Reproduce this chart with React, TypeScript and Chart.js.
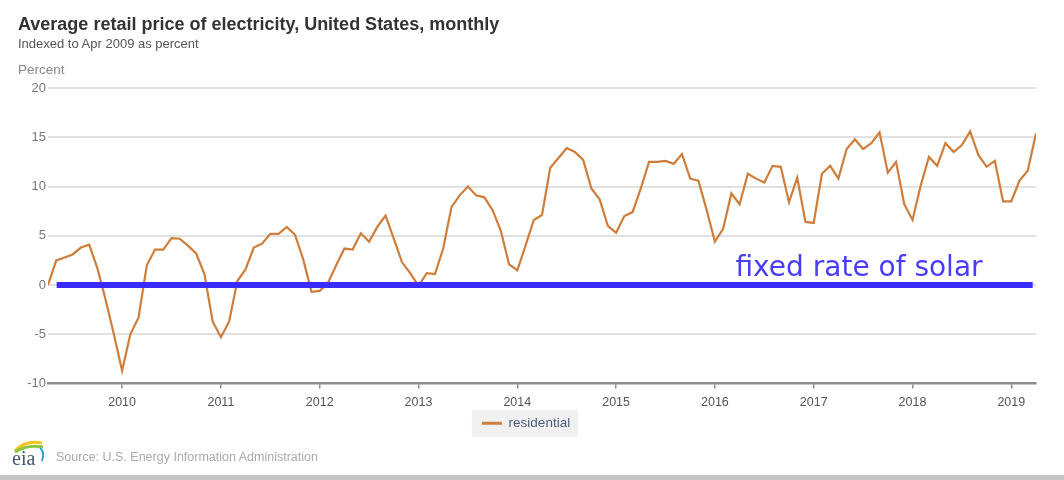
import React, { useEffect, useRef } from "react";
import { Chart, registerables } from "chart.js";

Chart.register(...registerables);

// ---------- data ----------
const START_YEAR = 2009;
const START_MONTH = 4; // Apr 2009 = index 0

// Residential price index (% vs Apr 2009), monthly Apr 2009 .. Apr 2019
const residential: number[] = [
  0, 2.5, 2.8, 3.1, 3.8, 4.1, 1.7, -1.5, -5.0, -8.7,
  -5.0, -3.3, 2.0, 3.6, 3.6, 4.75, 4.7, 4.0, 3.2, 1.1,
  -3.7, -5.3, -3.7, 0.4, 1.6, 3.8, 4.2, 5.2, 5.2, 5.9,
  5.1, 2.6, -0.7, -0.6, 0.2, 2.0, 3.7, 3.6, 5.25, 4.4,
  5.9, 7.05, 4.7, 2.3, 1.2, -0.1, 1.2, 1.1, 3.7, 7.9,
  9.1, 10.0, 9.1, 8.9, 7.6, 5.5, 2.1, 1.5, 4.0, 6.6,
  7.1, 11.9, 12.9, 13.9, 13.5, 12.7, 9.8, 8.7, 6.0, 5.3,
  7.0, 7.4, 9.8, 12.5, 12.5, 12.6, 12.3, 13.3, 10.8, 10.6,
  7.6, 4.4, 5.7, 9.3, 8.2, 11.3, 10.8, 10.4, 12.1, 12.0,
  8.4, 10.9, 6.4, 6.3, 11.3, 12.1, 10.8, 13.8, 14.8, 13.8,
  14.4, 15.5, 11.4, 12.5, 8.2, 6.6, 10.1, 13.0, 12.1, 14.4,
  13.5, 14.2, 15.6, 13.2, 12.0, 12.6, 8.5, 8.5, 10.6, 11.6,
  15.4,
];

// Month labels (categories) for each value
const months: string[] = residential.map((_, i) => {
  const m = START_MONTH - 1 + i;
  const y = START_YEAR + Math.floor(m / 12);
  const mm = (m % 12) + 1;
  return `${y}-${String(mm).padStart(2, "0")}`;
});

const xTickYears: string[] = ["2010", "2011", "2012", "2013", "2014", "2015", "2016", "2017", "2018", "2019"];
const yTicks: number[] = [-10, -5, 0, 5, 10, 15, 20];

// "fixed rate of solar" reference line (month index span, value)
const solarX: number[] = [1.05, 119.6];
const solarY: number[] = [0, 0];
const SOLAR_TEXT = "fixed rate of solar";
const SOLAR_TEXT_AT = 83.5; // month index where the annotation text starts

// ---------- styles ----------
const ORANGE = "#cf7d3b";
const BLUE = "#3a2cff";
const FONT = '"Liberation Sans", Arial, Helvetica, sans-serif';

const yearTickIdx = xTickYears.map((y) => months.indexOf(`${y}-01`));

export default function App() {
  const ref = useRef<HTMLCanvasElement | null>(null);

  useEffect(() => {
    if (!ref.current) return;

    const legendBg = {
      id: "legendBg",
      beforeDraw(chart: any) {
        const lg = chart.legend;
        if (!lg || !lg.legendHitBoxes || !lg.legendHitBoxes.length) return;
        const hb = lg.legendHitBoxes[0];
        const c = chart.ctx;
        c.save();
        c.fillStyle = "#f1f1f1";
        c.fillRect(hb.left - 10, hb.top - 7, hb.width + 18, hb.height + 14);
        c.restore();
      },
    };

    const solarText = {
      id: "solarText",
      afterDatasetsDraw(chart: any) {
        const xs = chart.scales.x;
        const ys = chart.scales.y;
        const c = chart.ctx;
        c.save();
        c.font = '28px "DejaVu Sans", sans-serif';
        c.fillStyle = "#4a3cff";
        c.textBaseline = "alphabetic";
        c.textAlign = "left";
        c.fillText(SOLAR_TEXT, xs.getPixelForValue(SOLAR_TEXT_AT), ys.getPixelForValue(0) - 9);
        c.restore();
      },
    };

    const chart = new Chart(ref.current, {
      type: "line",
      data: {
        datasets: [
          {
            label: "residential",
            data: residential.map((v, i) => ({ x: i, y: v })),
            borderColor: ORANGE,
            backgroundColor: ORANGE,
            borderWidth: 2.2,
            pointRadius: 0,
            tension: 0,
            order: 1,
          },
          {
            label: "solar",
            data: solarX.map((x, i) => ({ x, y: solarY[i] })),
            borderColor: BLUE,
            backgroundColor: BLUE,
            borderWidth: 6,
            borderCapStyle: "butt",
            pointRadius: 0,
            order: 0,
          },
        ],
      },
      options: {
        responsive: false,
        animation: false,
        devicePixelRatio: 1,
        layout: { padding: { top: 88, right: 28, bottom: 40, left: 16 } },
        plugins: {
          tooltip: { enabled: false },
          title: { display: false },
          legend: {
            position: "bottom",
            labels: {
              boxWidth: 20,
              boxHeight: 3,
              padding: 7,
              color: "#4d5c7c",
              font: { family: FONT, size: 13.5 },
              generateLabels: (ch: any) =>
                Chart.defaults.plugins.legend.labels
                  .generateLabels(ch)
                  .filter((l: any) => l.datasetIndex === 0)
                  .map((l: any) => ({ ...l, lineWidth: 0, fillStyle: ORANGE })),
            },
          },
        },
        scales: {
          x: {
            type: "linear",
            min: 0,
            max: months.length - 1,
            afterBuildTicks: (s: any) => {
              s.ticks = yearTickIdx.map((v) => ({ value: v }));
            },
            afterFit: (s: any) => {
              s.height = 26;
            },
            ticks: {
              autoSkip: false,
              maxRotation: 0,
              padding: 7,
              color: "#555",
              font: { family: FONT, size: 12.5 },
              callback: (v: any) => {
                const k = yearTickIdx.indexOf(Number(v));
                return k >= 0 ? xTickYears[k] : "";
              },
            },
            grid: {
              drawOnChartArea: false,
              drawTicks: true,
              tickLength: 5,
              color: "#8c8c8c",
              lineWidth: 1.5,
            },
            border: { display: true, color: "#8c8c8c", width: 2.5 },
          },
          y: {
            min: -10,
            max: 20,
            afterBuildTicks: (s: any) => {
              s.ticks = yTicks.map((v) => ({ value: v }));
            },
            afterFit: (s: any) => {
              s.width = 32;
            },
            ticks: {
              padding: 2,
              color: "#777",
              font: { family: FONT, size: 13 },
            },
            grid: {
              drawTicks: false,
              lineWidth: 2,
              color: (ctx: any) => (ctx.tick && ctx.tick.value === -10 ? "rgba(0,0,0,0)" : "#e1e1e1"),
            },
            border: { display: false },
          },
        },
      },
      plugins: [legendBg, solarText],
    } as any);

    return () => chart.destroy();
  }, []);

  return (
    <div
      style={{
        position: "absolute",
        left: 0,
        top: 0,
        width: 1064,
        height: 480,
        background: "#fff",
        overflow: "hidden",
        fontFamily: FONT,
      }}
    >
      <canvas ref={ref} width={1064} height={480} style={{ position: "absolute", left: 0, top: 0, width: 1064, height: 480 }} />
      <div style={{ position: "absolute", left: 18, top: 15, fontSize: 18, lineHeight: "18px", fontWeight: "bold", color: "#333", whiteSpace: "nowrap" }}>
        Average retail price of electricity, United States, monthly
      </div>
      <div style={{ position: "absolute", left: 18, top: 37, fontSize: 13, lineHeight: "13px", color: "#555", whiteSpace: "nowrap" }}>
        Indexed to Apr 2009 as percent
      </div>
      <div style={{ position: "absolute", left: 18, top: 62.5, fontSize: 13.5, lineHeight: "13.5px", color: "#888", whiteSpace: "nowrap" }}>
        Percent
      </div>
      <svg style={{ position: "absolute", left: 10, top: 437 }} width={38} height={30} viewBox="0 0 38 30">
        <path d="M5 14 Q15 3 32 6" stroke="#f2c318" strokeWidth={3} fill="none" />
        <path d="M5 15 Q17 7 33 10" stroke="#8cc63f" strokeWidth={3} fill="none" />
        <path d="M30 11 Q35 15 32 24" stroke="#2aa3dc" strokeWidth={2} fill="none" />
        <text x={2} y={28} fontFamily='"Liberation Serif", "DejaVu Serif", serif' fontSize={20} fill="#4a5670">
          eia
        </text>
      </svg>
      <div style={{ position: "absolute", left: 56, top: 451, fontSize: 12.5, lineHeight: "12.5px", color: "#aaa", whiteSpace: "nowrap" }}>
        Source: U.S. Energy Information Administration
      </div>
      <div style={{ position: "absolute", left: 0, top: 475, width: 1064, height: 5, background: "#c6c6c6" }} />
    </div>
  );
}
